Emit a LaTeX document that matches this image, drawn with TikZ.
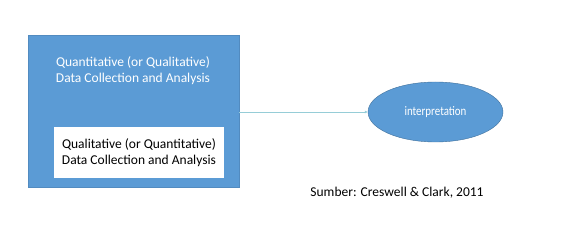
\documentclass[tikz,border=0pt]{standalone}
\usepackage{fontspec}
\usepackage{graphicx}
\setmainfont{Carlito}
\usetikzlibrary{arrows.meta, positioning, shapes.geometric}
\definecolor{office_blue}{RGB}{91, 155, 213}
\definecolor{edge_blue}{RGB}{65, 113, 156}
\definecolor{line_teal}{RGB}{150, 205, 215}

\begin{document}
\begin{tikzpicture}[
    x=1pt, y=-1pt,
    every node/.style={font=\fontsize{13.5}{16}\selectfont},
    outerbox/.style={draw=office_blue!90!black, fill=office_blue,
                minimum width=211pt, minimum height=152pt, inner sep=0pt},
    innerbox/.style={fill=white, minimum width=170pt, minimum height=51pt,
                align=center, inner sep=0pt},
    bluetext/.style={text=white, align=center},
    oval/.style={ellipse, draw=edge_blue, fill=office_blue, text=white,
                minimum width=135pt, minimum height=60pt, inner sep=0pt,
                font=\fontsize{13}{15}\selectfont},
    arr/.style={-{Latex[length=3pt, width=3pt]}, line_teal, line width=0.6pt},
]
\useasboundingbox (0,0) rectangle (561,232);
\node[outerbox] (outer) at (133.5, 111) {};
\node[bluetext] (toptext) at (133, 71) {Quantitative (or Qualitative)\\Data Collection and Analysis};
\node[innerbox] (inner) at (139, 152.5) {Qualitative (or Quantitative)\\Data Collection and Analysis};
\node[oval] (interp) at (435.5, 112) {\scalebox{0.84}[1]{interpretation}};
\node (source) at (397, 193) {Sumber: Creswell \& Clark, 2011};

\draw[arr] (outer.east |- interp) -- (interp.west);
\end{tikzpicture}
\end{document}
